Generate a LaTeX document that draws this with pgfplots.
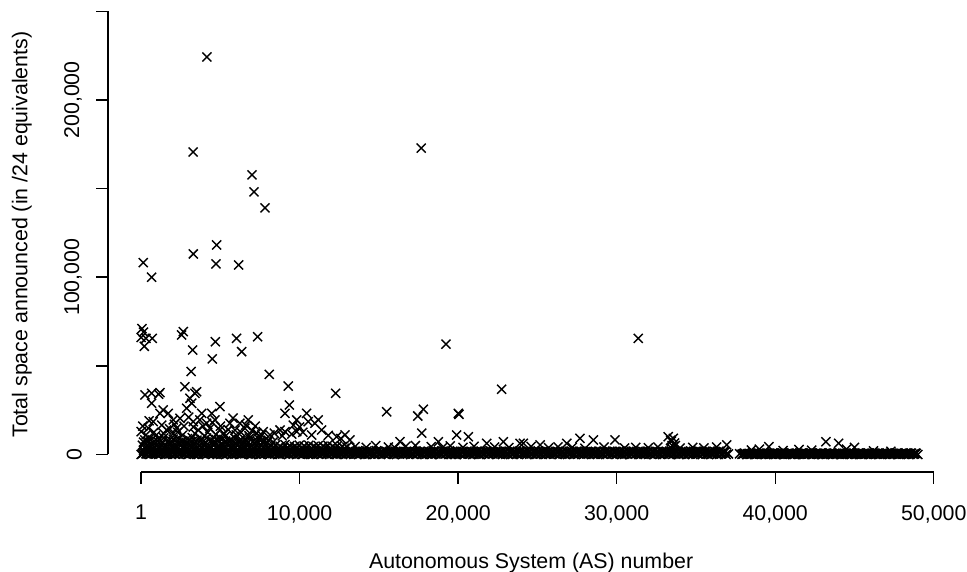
\documentclass[border=0pt]{standalone}
\usepackage{fontspec}
\setmainfont{Liberation Sans}
\usepackage{pgfplots}
\pgfplotsset{compat=1.18}
\pgfplotsset{rx/.style={only marks, mark=x, mark size=3.6pt, black, mark options={line width=0.8pt}}}
\begin{document}
\begin{tikzpicture}
\useasboundingbox (-79.3pt,-66pt) rectangle (463.9pt,255.3pt);
\begin{axis}[
  at={(0,0)}, anchor=south west,
  scale only axis, width=445.2pt, height=249pt,
  xmin=1, xmax=50000, ymin=0, ymax=250000,
  axis x line*=bottom, axis y line*=left,
  axis x line shift=9.8pt, axis y line shift=18.65pt,
  clip=false, scaled ticks=false,
  tick align=outside, major tick length=6.7pt,
  axis line style={line width=0.8pt},
  tick style={black, line width=0.8pt},
  xtick={1,10000,20000,30000,40000,50000},
  xticklabels={1,{10,000},{20,000},{30,000},{40,000},{50,000}},
  ytick={0,50000,100000,150000,200000,250000},
  yticklabels={0,,{100,000},,{200,000},},
  tick label style={font=\fontsize{12}{14}\selectfont},
  xticklabel style={yshift=-8.4pt},
  yticklabel style={xshift=-4.5pt, rotate=90, anchor=south},
  every axis x label/.style={at={(axis description cs:0.492,-0.245)}, anchor=center, font=\fontsize{12}{14}\selectfont},
  every axis y label/.style={at={(axis description cs:-0.1505,0.496)}, anchor=center, rotate=90, font=\fontsize{12}{14}\selectfont},
  xlabel={Autonomous System (AS) number},
  ylabel={Total space announced (in /24 equivalents)},
]
% outliers and scattered values
\addplot[rx] coordinates {
(4151,224200) (3281,170600) (17666,172800) (6991,157700) (7117,148100) (7811,139100)
(134,108200) (660,100000) (3290,113100) (4760,118200) (4718,107500) (6150,106900)
(50,71000) (150,69000) (1,66000) (300,65500) (200,61000) (700,65500)
(2660,69300) (2550,67400) (3250,58900) (3150,46800) (4680,63600) (4490,53900)
(6020,65500) (6340,58000) (7350,66400) (8080,45200) (9280,38600) (12270,34500)
(19230,62200) (22740,36800) (31360,65500) (15490,24100) (17450,21700) (17800,25500)
(20010,23200) (20050,22600) (9350,27900) (9070,23200)
(240,33600) (660,34500) (1190,34900) (1100,34000) (660,28900) (1390,25100)
(1710,23200) (1190,23200) (760,18500) (2025,19500) (2450,20400) (2760,38200)
(3190,28900) (3390,34500) (3500,35400) (3080,31700) (2870,26100) (3820,23200)
(4450,23200) (4970,27000) (4660,19500) (4130,17600) (3290,18500) (3600,13800)
(4340,14800) (5600,17600) (6230,17600) (6760,19500) (6550,14800) (5920,13800)
(7290,12000) (7700,12900) (1,12900) (450,14800) (1610,13800) (2240,14800) (4970,13800)
(9810,19500) (10440,23200) (10540,18500) (11170,19500) (11390,13800) (10960,17600)
(8130,11000) (8760,13800) (9070,12900) (9810,12900) (10760,11000) (12330,10000)
(12860,11000) (13170,8200) (17700,12000) (19900,11000) (20640,10000) (16330,7200)
(18750,7200) (21800,6300) (22850,7200) (24110,6300) (23900,6300) (25170,5400)
(26850,6300) (27680,9100) (28530,8200) (29890,8200) (33250,10000) (33570,9100)
(33450,7500) (33650,6500) (33500,5000) (33400,8000) (33700,5000) (33450,3500)
(36940,5400) (39600,4400) (43200,7200) (44000,6300) (45000,4000)
(300,11000) (900,10500) (1400,12000) (2000,11500) (2600,10800) (3400,11800)
(4000,10500) (4700,11200) (5300,10200) (6000,11000) (6800,10600) (7500,9800)
(100,16000) (500,19000) (800,12500) (1300,16500) (1800,14500) (2100,17000)
(2300,12500) (2700,16000) (3000,21000) (3300,15500) (3700,19500) (3900,16000)
(4200,12500) (4500,18000) (5000,16000) (5200,12000) (5500,14000) (5800,20500)
(6300,12500) (6600,16500) (7000,13500) (7200,16000) (7600,11000) (8400,12000)
(8900,10500) (9500,11500) (10200,12500) (10000,15500) (11800,10800) (12600,9000) (9600,16500)
(13500,4500) (14200,4000) (14800,5000) (15600,4200) (16000,3800) (16700,4600)
(17300,5000) (18300,4400) (19000,3800) (19500,4800) (20300,4000) (21000,4600)
(22300,4200) (23200,3900) (24600,4500) (25700,3800) (26300,4300) (27200,4000)
(28000,3500) (29200,4200) (30500,3600) (31200,4000) (32000,3800) (32600,4200)
(34000,3600) (34800,4000) (35500,3700) (36300,4200)
(38500,2500) (39000,3000) (40500,2200) (41500,2800) (42300,2400) (44500,3000)
(46200,2000) (47300,1800)
};
% dense band, row near zero
\addplot[rx] coordinates {
(1,0) (300,400) (600,100) (900,700) (1200,200) (1500,0) (1800,500) (2100,300)
(2400,0) (2700,600) (3000,100) (3300,400) (3600,0) (3900,300) (4200,700) (4500,100)
(4800,0) (5100,500) (5400,200) (5700,0) (6000,400) (6300,100) (6600,600) (6900,0)
(7200,300) (7500,100) (7800,500) (8100,0) (8400,300) (8700,100) (9000,600) (9300,0)
(9600,200) (9900,400) (10200,0) (10500,300) (10800,100) (11100,500) (11400,0) (11700,200)
(12000,400) (12300,0) (12600,300) (12900,100) (13200,0) (13500,400) (13800,100) (14100,0)
(14400,300) (14700,0) (15000,200) (15300,500) (15600,0) (15900,100) (16200,300) (16500,0)
(16800,200) (17100,400) (17400,0) (17700,100) (18000,300) (18300,0) (18600,200) (18900,0)
(19200,400) (19500,100) (19800,0) (20100,300) (20400,0) (20700,200) (21000,100) (21300,0)
(21600,400) (21900,0) (22200,200) (22500,100) (22800,0) (23100,300) (23400,0) (23700,200)
(24000,100) (24300,0) (24600,300) (24900,0) (25200,200) (25500,100) (25800,0) (26100,300)
(26400,0) (26700,200) (27000,100) (27300,0) (27600,300) (27900,0) (28200,200) (28500,100)
(28800,0) (29100,300) (29400,0) (29700,200) (30000,100) (30300,0) (30600,300) (30900,0)
(31200,200) (31500,100) (31800,0) (32100,300) (32400,0) (32700,200) (33000,100) (33300,0)
(33600,300) (33900,0) (34200,200) (34500,100) (34800,0) (35100,300) (35400,0) (35700,200)
(36000,100) (36300,0) (36600,300) (36900,0)
(37900,100) (38200,0) (38500,200) (38800,0) (39100,100) (39400,0) (39700,200) (40000,0)
(40300,100) (40600,0) (40900,200) (41200,0) (41500,100) (41800,0) (42100,200) (42400,0)
(42700,100) (43000,0) (43300,200) (43600,0) (43900,100) (44200,0) (44500,200) (44800,0)
(45100,100) (45400,0) (45700,200) (46000,0) (46300,100) (46600,0) (46900,200) (47200,0)
(47500,100) (47800,0) (48100,200) (48400,0) (48700,100) (49000,0)
};
% dense band, row near 400
\addplot[rx] coordinates {
(75,400) (375,200) (675,600) (975,300) (1275,500) (1575,100)
(1875,400) (2175,200) (2475,600) (2775,300) (3075,500) (3375,100)
(3675,400) (3975,200) (4275,600) (4575,300) (4875,500) (5175,100)
(5475,400) (5775,200) (6075,600) (6375,300) (6675,500) (6975,100)
(7275,400) (7575,200) (7875,600) (8175,300) (8475,500) (8775,100)
(9075,400) (9375,200) (9675,600) (9975,300) (10275,500) (10575,100)
(10875,400) (11175,200) (11475,600) (11775,300) (12075,500) (12375,100)
(12675,400) (12975,200) (13275,600) (13575,300) (13875,500) (14175,100)
(14475,400) (14775,200) (15075,600) (15375,300) (15675,500) (15975,100)
(16275,400) (16575,200) (16875,600) (17175,300) (17475,500) (17775,100)
(18075,400) (18375,200) (18675,600) (18975,300) (19275,500) (19575,100)
(19875,400) (20175,200) (20475,600) (20775,300) (21075,500) (21375,100)
(21675,400) (21975,200) (22275,600) (22575,300) (22875,500) (23175,100)
(23475,400) (23775,200) (24075,600) (24375,300) (24675,500) (24975,100)
(25275,400) (25575,200) (25875,600) (26175,300) (26475,500) (26775,100)
(27075,400) (27375,200) (27675,600) (27975,300) (28275,500) (28575,100)
(28875,400) (29175,200) (29475,600) (29775,300) (30075,500) (30375,100)
(30675,400) (30975,200) (31275,600) (31575,300) (31875,500) (32175,100)
(32475,400) (32775,200) (33075,600) (33375,300) (33675,500) (33975,100)
(34275,400) (34575,200) (34875,600) (35175,300) (35475,500) (35775,100)
(36075,400) (36375,200) (36675,600)
};
% dense band, row near 1000
\addplot[rx] coordinates {
(150,900) (450,700) (750,1100) (1050,800) (1350,1000) (1650,700) (1950,900) (2250,1100)
(2550,800) (2850,1000) (3150,700) (3450,900) (3750,1100) (4050,800) (4350,1000) (4650,700)
(4950,900) (5250,1100) (5550,800) (5850,1000) (6150,700) (6450,900) (6750,1100) (7050,800)
(7350,1000) (7650,700) (7950,900) (8250,1100) (8550,800) (8850,1000) (9150,700) (9450,900)
(9750,1100) (10050,800) (10350,1000) (10650,700) (10950,900) (11250,1100) (11550,800) (11850,1000)
(12150,700) (12450,900) (12750,1100) (13050,800) (13350,1000) (13650,700) (13950,900) (14250,1100)
(14550,800) (14850,1000) (15150,700) (15450,900) (15750,1100) (16050,800) (16350,1000) (16650,700)
(16950,900) (17250,1100) (17550,800) (17850,1000) (18150,700) (18450,900) (18750,1100) (19050,800)
(19350,1000) (19650,700) (19950,900) (20250,1100) (20550,800) (20850,1000) (21150,700) (21450,900)
(21750,1100) (22050,800) (22350,1000) (22650,700) (22950,900) (23250,1100) (23550,800) (23850,1000)
(24150,700) (24450,900) (24750,1100) (25050,800) (25350,1000) (25650,700) (25950,900) (26250,1100)
(26550,800) (26850,1000) (27150,700) (27450,900) (27750,1100) (28050,800) (28350,1000) (28650,700)
(28950,900) (29250,1100) (29550,800) (29850,1000) (30150,700) (30450,900) (30750,1100) (31050,800)
(31350,1000) (31650,700) (31950,900) (32250,1100) (32550,800) (32850,1000) (33150,700) (33450,900)
(33750,1100) (34050,800) (34350,1000) (34650,700) (34950,900) (35250,1100) (35550,800) (35850,1000)
(36150,700) (36450,900) (36750,1100) (37050,300)
};
% dense band, row near 1500
\addplot[rx] coordinates {
(225,1400) (525,1600) (825,1300) (1125,1500) (1425,1700) (1725,1350)
(2025,1400) (2325,1600) (2625,1300) (2925,1500) (3225,1700) (3525,1350)
(3825,1400) (4125,1600) (4425,1300) (4725,1500) (5025,1700) (5325,1350)
(5625,1400) (5925,1600) (6225,1300) (6525,1500) (6825,1700) (7125,1350)
(7425,1400) (7725,1600) (8025,1300) (8325,1500) (8625,1700) (8925,1350)
(9225,1400) (9525,1600) (9825,1300) (10125,1500) (10425,1700) (10725,1350)
(11025,1400) (11325,1600) (11625,1300) (11925,1500) (12225,1700) (12525,1350)
(12825,1400) (13125,1600) (13425,1300) (13725,1500) (14025,1700) (14325,1350)
(14625,1400) (14925,1600) (15225,1300) (15525,1500) (15825,1700) (16125,1350)
(16425,1400) (16725,1600) (17025,1300) (17325,1500) (17625,1700) (17925,1350)
(18225,1400) (18525,1600) (18825,1300) (19125,1500) (19425,1700) (19725,1350)
(20025,1400) (20325,1600) (20625,1300) (20925,1500) (21225,1700) (21525,1350)
(21825,1400) (22125,1600) (22425,1300) (22725,1500) (23025,1700) (23325,1350)
(23625,1400) (23925,1600) (24225,1300) (24525,1500) (24825,1700) (25125,1350)
(25425,1400) (25725,1600) (26025,1300) (26325,1500) (26625,1700) (26925,1350)
(27225,1400) (27525,1600) (27825,1300) (28125,1500) (28425,1700) (28725,1350)
(29025,1400) (29325,1600) (29625,1300) (29925,1500) (30225,1700) (30525,1350)
(30825,1400) (31125,1600) (31425,1300) (31725,1500) (32025,1700) (32325,1350)
(32625,1400) (32925,1600) (33225,1300) (33525,1500) (33825,1700) (34125,1350)
(34425,1400) (34725,1600) (35025,1300) (35325,1500) (35625,1700) (35925,1350)
(36225,1400) (36525,1600) (36825,1300)
};
% dense band, row near 2000
\addplot[rx] coordinates {
(150,2500) (450,1800) (750,3000) (1050,2200) (1350,2800) (1650,1600) (1950,2600) (2250,3100)
(2550,2000) (2850,2700) (3150,1800) (3450,3000) (3750,2400) (4050,2000) (4350,2900) (4650,1700)
(4950,2500) (5250,3000) (5550,2100) (5850,2700) (6150,1900) (6450,2600) (6750,3000) (7050,2200)
(7350,2800) (7650,1700) (7950,2500) (8250,2000) (8550,2600) (8850,1800) (9150,2400) (9450,2000)
(9750,2700) (10050,1900) (10350,2300) (10650,2600) (10950,1800) (11250,2400) (11550,2100) (11850,2700)
(12150,1900) (12450,2300) (12750,2000) (13050,1800) (13350,1900) (13650,2100) (13950,1700) (14250,2000)
(14550,1800) (14850,2100) (15150,1700) (15450,1900) (15750,2000) (16050,1800) (16350,1900) (16650,1700)
(16950,2100) (17250,1800) (17550,1700) (17850,2000) (18150,1700) (18450,1900) (18750,1800) (19050,2000)
(19350,1700) (19650,1800) (19950,2100) (20250,1800) (20550,1900) (20850,1700) (21150,1800) (21450,2000)
(21750,1800) (22050,1900) (22350,1700) (22650,1800) (22950,2000) (23250,1800) (23550,1700) (23850,1900)
(24150,1800) (24450,1800) (24750,1700) (25050,2000) (25350,1800) (25650,1700) (25950,1800) (26250,1800)
(26550,1900) (26850,1700) (27150,1800) (27450,1800) (27750,1900) (28050,1700) (28350,1800) (28650,1800)
(28950,1700) (29250,1900) (29550,1800) (29850,1700) (30150,1800) (30450,1800) (30750,1700) (31050,1900)
(31350,1800) (31650,1700) (31950,1800) (32250,1800) (32550,1700) (32850,1900) (33150,1800) (33450,2000)
(33750,1800) (34050,1700) (34350,1800) (34650,1900) (34950,1700) (35250,1800) (35550,1800) (35850,1700)
(36150,1800) (36450,1900) (36750,1700)
};
% dense band, row near 3700
\addplot[rx] coordinates {
(225,3800) (525,3400) (825,4000) (1125,3600) (1425,3900) (1725,3300) (2025,3800) (2325,3500)
(2625,4000) (2925,3600) (3225,3900) (3525,3400) (3825,3800) (4125,3500) (4425,4000) (4725,3600)
(5025,3900) (5325,3400) (5625,3800) (5925,3500) (6225,4000) (6525,3600) (6825,3900) (7125,3400)
(7425,3800) (7725,3500) (8025,4000) (8325,3600) (8625,3700) (8925,3400) (9225,3800) (9525,3500)
(9825,3900) (10125,3400) (10425,3700) (10725,3500) (11025,3800) (11325,3400) (11625,3600) (11925,3300)
(12225,3600) (12525,3200) (12825,3400)
};
% dense band, row near 5000
\addplot[rx] coordinates {
(75,5200) (375,4600) (675,6000) (975,5000) (1275,5600) (1575,4400) (1875,5800) (2175,5000)
(2475,6100) (2775,4700) (3075,5500) (3375,6200) (3675,4800) (3975,5700) (4275,5100) (4575,6000)
(4875,4500) (5175,5400) (5475,6100) (5775,4900) (6075,5600) (6375,5200) (6675,6000) (6975,4700)
(7275,5500) (7575,5000) (7875,5800) (8175,4800) (8475,5300) (8775,4600) (9075,5500) (9375,5000)
(9675,4500) (9975,5300) (10275,4800) (10575,5200) (10875,4400) (11175,5000) (11475,4700) (11775,5300)
(12075,4600) (12375,4900) (12675,4500) (12975,4200)
};
% dense band, row near 7000
\addplot[rx] coordinates {
(150,7000) (450,7300) (750,6800) (1050,7400) (1350,7100) (1650,6900) (1950,7300) (2250,7000)
(2550,7400) (2850,6800) (3150,7200) (3450,7000) (3750,7400) (4050,6900) (4350,7200) (4650,7000)
(4950,7300) (5250,6800) (5550,7200) (5850,7000) (6150,7400) (6450,6900) (6750,7200) (7050,7000)
(7350,7300) (7650,6900) (7950,6800)
};
% dense band, row near 8500
\addplot[rx] coordinates {
(225,8200) (525,9000) (825,7600) (1125,8800) (1425,9400) (1725,7800) (2025,8600) (2325,9200)
(2625,7700) (2925,8900) (3225,9500) (3525,8100) (3825,8700) (4125,9300) (4425,7900) (4725,8500)
(5025,9100) (5325,7600) (5625,8400) (5925,9000) (6225,7800) (6525,8600) (6825,9200) (7125,8000)
(7425,8700) (7725,7600) (8025,8000) (8325,7000)
};
% right part of the band
\addplot[rx] coordinates {
(38050,800) (38350,600) (38650,900) (38950,700) (39250,800) (39550,600) (39850,900) (40150,700)
(40450,800) (40750,600) (41050,900) (41350,700) (41650,800) (41950,600) (42250,900) (42550,700)
(42850,800) (43150,600) (43450,900) (43750,700) (44050,800) (44350,600) (44650,900) (44950,700)
(45250,800) (45550,600) (45850,900) (46150,700) (46450,800) (46750,600) (47050,900) (47350,700)
(47650,800) (47950,600) (48250,900) (48550,700) (48850,800)
};
\addplot[rx] coordinates {
(37750,400) (38000,400) (38300,300) (38600,500) (38900,400) (39200,300) (39500,500) (39800,400)
(40100,300) (40400,500) (40700,400) (41000,300) (41300,500) (41600,400) (41900,300) (42200,500)
(42500,400) (42800,300) (43100,500) (43400,400) (43700,300) (44000,500) (44300,400) (44600,300)
(44900,500) (45200,400) (45500,300) (45800,500) (46100,400) (46400,300) (46700,500) (47000,400)
(47300,300) (47600,500) (47900,400) (48200,300) (48500,500) (48800,400)
};
\addplot[rx] coordinates {
(38100,600) (38400,500) (38700,700) (39000,600) (39300,500) (39600,700) (39900,600) (40200,500)
(40500,700) (40800,600) (41100,500) (41400,700) (41700,600) (42000,500) (42300,700) (42600,600)
(42900,500) (43200,700) (43500,600) (43800,500) (44100,700) (44400,600) (44700,500) (45000,700)
(45300,600) (45600,500) (45900,700) (46200,600) (46500,500) (46800,700) (47100,600) (47400,500)
(47700,700) (48000,600) (48300,500) (48600,700) (48900,600)
};
\addplot[rx] coordinates {
(37950,200) (38250,100) (38550,300) (38850,200) (39150,100) (39450,300) (39750,200) (40050,100)
(40350,300) (40650,200) (40950,100) (41250,300) (41550,200) (41850,100) (42150,300) (42450,200)
(42750,100) (43050,300) (43350,200) (43650,100) (43950,300) (44250,200) (44550,100) (44850,300)
(45150,200) (45450,100) (45750,300) (46050,200) (46350,100) (46650,300) (46950,200) (47250,100)
(47550,300) (47850,200) (48150,100) (48450,300) (48750,200)
};
\end{axis}
\end{tikzpicture}
\end{document}
